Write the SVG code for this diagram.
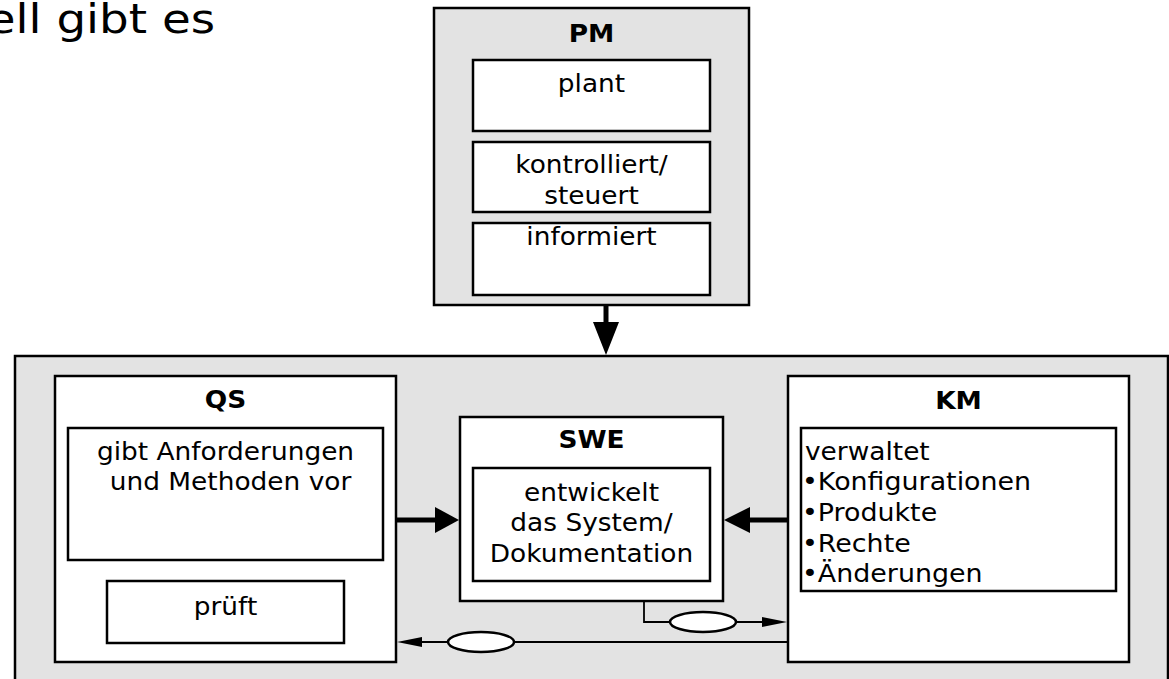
<svg xmlns="http://www.w3.org/2000/svg" width="1169" height="679" viewBox="0 0 1169 679">
<style>
.bg{fill:#e3e3e3;stroke:#000;stroke-width:2.5}
.box{fill:#fff;stroke:#000;stroke-width:2.5}
.t{font-family:"DejaVu Sans",Verdana,sans-serif;font-size:24px;fill:#000}
.big{font-size:41px}
.b{font-weight:bold}
.thick{stroke:#000;stroke-width:5;fill:none}
.thin{stroke:#000;stroke-width:1.8;fill:none}
.oval{fill:#fff;stroke:#000;stroke-width:2.5}
</style>
<rect width="1169" height="679" fill="#fff"/>
<text class="t big" text-anchor="end" transform="translate(215,33) scale(1.14 1)">ell gibt es</text>

<g id="system">
<rect class="bg" x="15" y="356" width="1153" height="340"/>
</g>

<g id="PM">
<rect class="bg" x="434" y="8" width="315" height="297"/>
<text class="t b" text-anchor="middle" transform="translate(591.5,42) scale(1.1 1)">PM</text>
<rect class="box" x="473" y="60" width="237" height="71"/>
<text class="t" text-anchor="middle" transform="translate(591.5,92) scale(1.1 1)">plant</text>
<rect class="box" x="473" y="142" width="237" height="70"/>
<text class="t" text-anchor="middle" transform="translate(591.5,173) scale(1.1 1)">kontrolliert/</text>
<text class="t" text-anchor="middle" transform="translate(591.5,204) scale(1.1 1)">steuert</text>
<rect class="box" x="473" y="223" width="237" height="72"/>
<text class="t" text-anchor="middle" transform="translate(591.5,245) scale(1.1 1)">informiert</text>
</g>

<g id="QS">
<rect class="box" x="55" y="376" width="341" height="286"/>
<text class="t b" text-anchor="middle" transform="translate(225.5,408) scale(1.1 1)">QS</text>
<rect class="box" x="68" y="428" width="315" height="132"/>
<text class="t" text-anchor="middle" transform="translate(225.5,460) scale(1.1 1)">gibt Anforderungen</text>
<text class="t" text-anchor="middle" transform="translate(230.5,490) scale(1.1 1)">und Methoden vor</text>
<rect class="box" x="107" y="581" width="237" height="62"/>
<text class="t" text-anchor="middle" transform="translate(225.5,615) scale(1.1 1)">prüft</text>
</g>

<g id="SWE">
<rect class="box" x="460" y="417" width="263" height="184"/>
<text class="t b" text-anchor="middle" transform="translate(591.5,448) scale(1.1 1)">SWE</text>
<rect class="box" x="473" y="468" width="237" height="113"/>
<text class="t" text-anchor="middle" transform="translate(591.5,501) scale(1.1 1)">entwickelt</text>
<text class="t" text-anchor="middle" transform="translate(591.5,531) scale(1.1 1)">das System/</text>
<text class="t" text-anchor="middle" transform="translate(591.5,562) scale(1.1 1)">Dokumentation</text>
</g>

<g id="KM">
<rect class="box" x="788" y="376" width="341" height="286"/>
<text class="t b" text-anchor="middle" transform="translate(958.5,409) scale(1.1 1)">KM</text>
<rect class="box" x="801" y="428" width="315" height="163"/>
<text class="t" transform="translate(805,460) scale(1.1 1)">verwaltet</text>
<text class="t" transform="translate(802,490) scale(1.12 1)">•Konfigurationen</text>
<text class="t" transform="translate(802,521) scale(1.12 1)">•Produkte</text>
<text class="t" transform="translate(802,552) scale(1.12 1)">•Rechte</text>
<text class="t" transform="translate(802,582) scale(1.12 1)">•Änderungen</text>
</g>

<g id="connectors">
<line class="thick" x1="606" y1="305" x2="606" y2="324"/>
<polygon points="593,322 619,322 606,355"/>
<line class="thick" x1="396" y1="520" x2="437" y2="520"/>
<polygon points="435,507 459,520 435,533"/>
<line class="thick" x1="788" y1="520" x2="748" y2="520"/>
<polygon points="750,507 724,520 750,533"/>
<polyline class="thin" points="644,601 644,622 765,622"/>
<polygon points="762,617 787,622 762,627"/>
<ellipse class="oval" cx="703" cy="622" rx="33" ry="10"/>
<line class="thin" x1="788" y1="642" x2="420" y2="642"/>
<polygon points="422,637 397,642 422,647"/>
<ellipse class="oval" cx="481" cy="642" rx="33" ry="10"/>
</g>
</svg>
